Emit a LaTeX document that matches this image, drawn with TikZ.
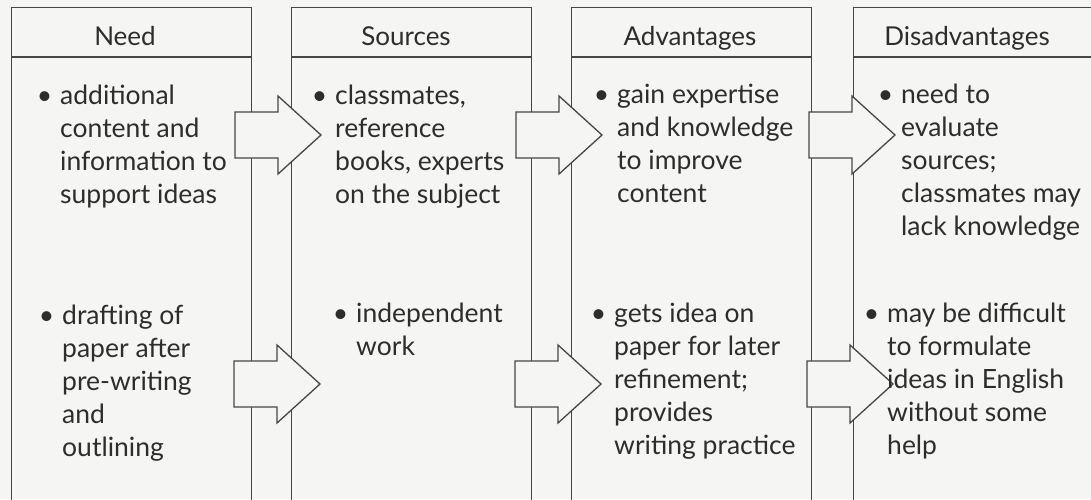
\documentclass[tikz,border=0pt]{standalone}
\usepackage{fontspec}
\setmainfont{Lato}
\definecolor{bg}{RGB}{245,245,243}
\definecolor{ink}{RGB}{45,45,45}
\definecolor{rule}{RGB}{70,70,70}
\begin{document}
\begin{tikzpicture}[x=1pt,y=-1pt,
  colbox/.style={draw=rule, line width=1.3pt, anchor=north west, minimum width=240pt, minimum height=600pt, inner sep=0},
  hrule/.style={draw=rule, line width=1.3pt},
  blockarrow/.style={draw=rule, line width=1.3pt, fill=bg, line join=miter},
  barrow/.pic={\draw[blockarrow] (0,-23) -- (43,-23) -- (43,-39) -- (86,0) -- (43,39) -- (43,23) -- (0,23) -- cycle;},
  head/.style={font=\fontsize{26}{33}\selectfont, text=ink, anchor=base, inner sep=0},
  item/.style={font=\fontsize{26.5}{33}\selectfont, text=ink, anchor=base west, align=left, inner sep=0}]
\useasboundingbox[fill=bg] (0,0) rectangle (1091,499);
\clip (0,0) rectangle (1091,499);
% columns
\node[colbox] (c1) at (11,7) {};
\node[colbox] (c2) at (291,7) {};
\node[colbox] (c3) at (571,7) {};
\node[colbox] (c4) at (853,7) {};
\foreach \c in {c1,c2,c3,c4} {
  \draw[hrule] (\c.west |- 0,57) -- (\c.east |- 0,57);
}
% headers
\node[head] (h1) at (125,45) {Need};
\node[head] (h2) at (406,45) {Sources};
\node[head] (h3) at (690,45) {Advantages};
\node[head] (h4) at (967,45) {Disadvantages};
% block arrows
\coordinate (a1t) at (235,135);
\coordinate (a2t) at (516,135);
\coordinate (a3t) at (809,135);
\coordinate (a1b) at (234,384);
\coordinate (a2b) at (515,384);
\coordinate (a3b) at (807,384);
\foreach \a in {a1t,a2t,a3t,a1b,a2b,a3b} { \pic at (\a) {barrow}; }
% items (anchored at the baseline of the last line)
\newcommand\bul{\llap{\textbullet\hspace{8pt}}}
\node[item] (t1) at (60,203) {\bul additional\\content and\\information to\\support ideas};
\node[item] (b1) at (62,456) {\bul drafting of\\paper after\\pre-writing\\and\\outlining};
\node[item] (t2) at (335,203) {\bul classmates,\\reference\\books, experts\\on the subject};
\node[item] (b2) at (356,355) {\bul independent\\work};
\node[item] (t3) at (617,202) {\bul gain expertise\\and knowledge\\to improve\\content};
\node[item] (b3) at (614,454) {\bul gets idea on\\paper for later\\refinement;\\provides\\writing practice};
\node[item] (t4) at (901,235) {\bul need to\\evaluate\\sources;\\classmates may\\lack knowledge};
\node[item] (b4) at (887,454) {\bul may be difficult\\to formulate\\ideas in English\\without some\\help};
\end{tikzpicture}
\end{document}
